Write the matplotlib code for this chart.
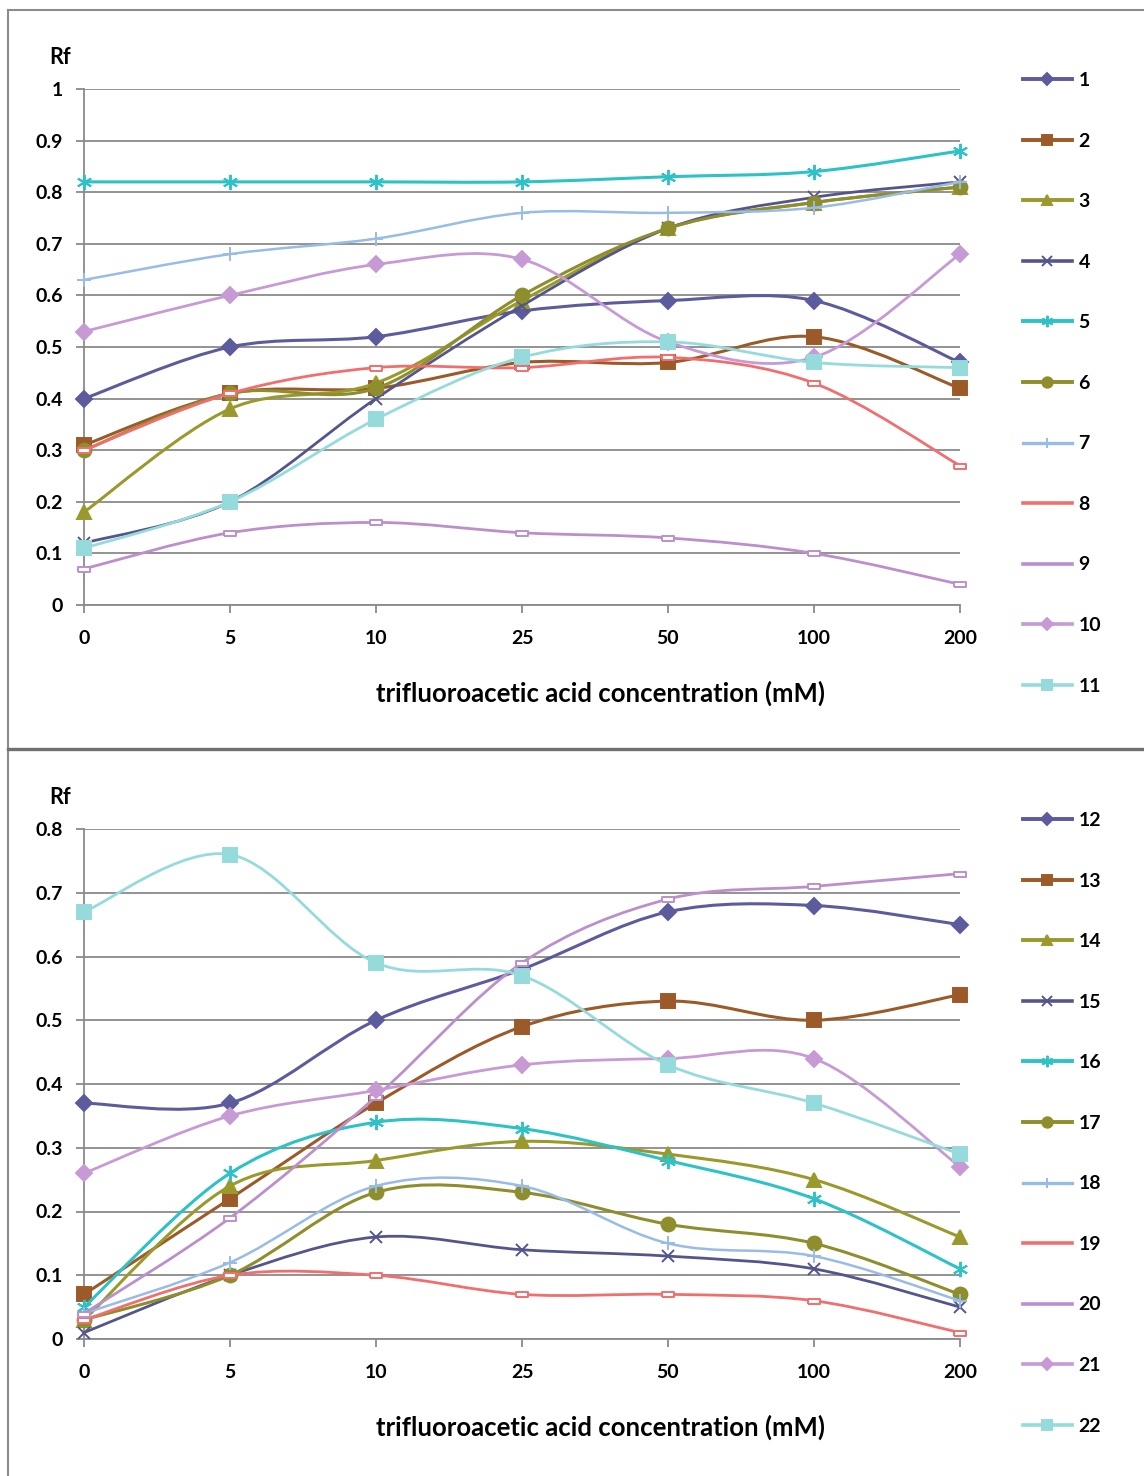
import numpy as np
import matplotlib
matplotlib.use('Agg')
import matplotlib.pyplot as plt
from matplotlib.path import Path
from matplotlib.patches import PathPatch
from matplotlib.lines import Line2D

plt.rcParams['font.family'] = ['Lato', 'DejaVu Sans']
plt.rcParams['font.weight'] = 'bold'

# ---------------- data ----------------
x_labels = ['0', '5', '10', '25', '50', '100', '200']
x_title = 'trifluoroacetic acid concentration (mM)'
y_title = 'Rf'

top_names = ['1', '2', '3', '4', '5', '6', '7', '8', '9', '10', '11']
s1 = [0.40, 0.50, 0.52, 0.57, 0.59, 0.59, 0.47]
s2 = [0.31, 0.41, 0.42, 0.47, 0.47, 0.52, 0.42]
s3 = [0.18, 0.38, 0.43, 0.59, 0.73, 0.78, 0.81]
s4 = [0.12, 0.20, 0.40, 0.58, 0.73, 0.79, 0.82]
s5 = [0.82, 0.82, 0.82, 0.82, 0.83, 0.84, 0.88]
s6 = [0.30, 0.41, 0.42, 0.60, 0.73, 0.78, 0.81]
s7 = [0.63, 0.68, 0.71, 0.76, 0.76, 0.77, 0.82]
s8 = [0.30, 0.41, 0.46, 0.46, 0.48, 0.43, 0.27]
s9 = [0.07, 0.14, 0.16, 0.14, 0.13, 0.10, 0.04]
s10 = [0.53, 0.60, 0.66, 0.67, 0.51, 0.48, 0.68]
s11 = [0.11, 0.20, 0.36, 0.48, 0.51, 0.47, 0.46]

bottom_names = ['12', '13', '14', '15', '16', '17', '18', '19', '20', '21', '22']
s12 = [0.37, 0.37, 0.50, 0.58, 0.67, 0.68, 0.65]
s13 = [0.07, 0.22, 0.37, 0.49, 0.53, 0.50, 0.54]
s14 = [0.03, 0.24, 0.28, 0.31, 0.29, 0.25, 0.16]
s15 = [0.01, 0.10, 0.16, 0.14, 0.13, 0.11, 0.05]
s16 = [0.05, 0.26, 0.34, 0.33, 0.28, 0.22, 0.11]
s17 = [0.03, 0.10, 0.23, 0.23, 0.18, 0.15, 0.07]
s18 = [0.04, 0.12, 0.24, 0.24, 0.15, 0.13, 0.06]
s19 = [0.03, 0.10, 0.10, 0.07, 0.07, 0.06, 0.01]
s20 = [0.04, 0.19, 0.38, 0.59, 0.69, 0.71, 0.73]
s21 = [0.26, 0.35, 0.39, 0.43, 0.44, 0.44, 0.27]
s22 = [0.67, 0.76, 0.59, 0.57, 0.43, 0.37, 0.29]

top_series = [s1, s2, s3, s4, s5, s6, s7, s8, s9, s10, s11]
bottom_series = [s12, s13, s14, s15, s16, s17, s18, s19, s20, s21, s22]

# ---------------- styles ----------------
rect_marker = [(-1, -0.45), (1, -0.45), (1, 0.45), (-1, 0.45), (-1, -0.45)]
styles = [
    dict(color='#5B5B9E', marker='D', ms=8.5, lw=2.2, mfill=True),
    dict(color='#9C5A28', marker='s', ms=10, lw=2.2, mfill=True),
    dict(color='#9A9A2C', marker='^', ms=10, lw=2.2, mfill=True),
    dict(color='#55558E', marker='x', ms=9, lw=2.0, mfill=True),
    dict(color='#2CC2C6', marker=(6, 2, 0), ms=11, lw=2.2, mfill=True),
    dict(color='#8E8E2C', marker='o', ms=10, lw=2.2, mfill=True),
    dict(color='#98BBE8', marker='+', ms=10, lw=1.8, mfill=True),
    dict(color='#F26E6E', marker=rect_marker, ms=8, lw=2.0, mfill=False),
    dict(color='#BC8FCC', marker=rect_marker, ms=8, lw=2.0, mfill=False),
    dict(color='#C79AD6', marker='D', ms=8.5, lw=2.0, mfill=True),
    dict(color='#95DBDB', marker='s', ms=10, lw=2.0, mfill=True),
]

GRID = '#8A8A8A'
W, H = 1144, 1476


def smooth_path(xs, ys):
    pts = np.column_stack([xs, ys]).astype(float)
    n = len(pts)
    verts = [pts[0]]
    codes = [Path.MOVETO]
    for i in range(n - 1):
        p0 = pts[i - 1] if i > 0 else pts[i]
        p1 = pts[i]
        p2 = pts[i + 1]
        p3 = pts[i + 2] if i + 2 < n else pts[i + 1]
        c1 = p1 + (p2 - p0) / 6.0
        c2 = p2 - (p3 - p1) / 6.0
        verts += [c1, c2, p2]
        codes += [Path.CURVE4] * 3
    return Path(verts, codes)


def draw_panel(fig, top_px, bottom_px, series, names, ymax, legend_top_px, rf_px):
    height_px = bottom_px - top_px
    ax = fig.add_axes([84 / W, 1 - bottom_px / H, (960 - 84) / W, height_px / H])
    xs = np.arange(len(x_labels))
    handles = []
    for z, (vals, name, st) in enumerate(zip(series, names, styles)):
        path = smooth_path(xs, vals)
        ax.add_patch(PathPatch(path, facecolor='none', edgecolor=st['color'],
                               lw=st['lw'], capstyle='round', joinstyle='round',
                               zorder=3 + z * 0.01))
        mfc = st['color'] if st['mfill'] else 'white'
        mew = 1.4
        ax.plot(xs, vals, linestyle='none', marker=st['marker'], ms=st['ms'],
                mfc=mfc, mec=st['color'], mew=mew, zorder=3.005 + z * 0.01,
                clip_on=False)
        if st['mfill']:
            h = Line2D([], [], color=st['color'], lw=st['lw'] + 0.6,
                       marker=st['marker'], ms=st['ms'] * 0.75, mfc=mfc,
                       mec=st['color'], mew=mew)
        else:
            h = Line2D([], [], color=st['color'], lw=st['lw'] + 0.6)
        handles.append(h)

    ax.set_xlim(0, len(x_labels) - 1)
    ax.set_ylim(0, ymax)
    yt = np.round(np.arange(0, ymax + 1e-9, 0.1), 1)
    ax.set_yticks(yt)
    ax.set_yticklabels([('%g' % v) for v in yt])
    ax.set_xticks(xs)
    ax.set_xticklabels(x_labels)
    ax.grid(axis='y', color=GRID, lw=1.3)
    ax.set_axisbelow(True)
    for s in ['top', 'right']:
        ax.spines[s].set_visible(False)
    for s in ['left', 'bottom']:
        ax.spines[s].set_color(GRID)
        ax.spines[s].set_linewidth(1.3)
    ax.tick_params(axis='y', length=6, width=1.3, color=GRID, pad=9,
                   labelsize=14)
    ax.tick_params(axis='x', length=6, width=1.3, color=GRID, pad=12,
                   labelsize=14)
    ax.set_xlabel(x_title, fontsize=18.5, fontweight='bold')
    ax.xaxis.set_label_coords((600 - 84) / 876, -88 / height_px)
    ax.xaxis.label.set_va('center')

    fig.text(60 / W, 1 - rf_px / H, y_title, fontsize=15.5, fontweight='bold',
             ha='center', va='center')

    fig.legend(handles, names, loc='upper left',
               bbox_to_anchor=(1023 / W, 1 - legend_top_px / H),
               frameon=False, fontsize=14, handlelength=2.5,
               handletextpad=0.35, labelspacing=2.24, borderaxespad=0,
               borderpad=0)
    return ax


fig = plt.figure(figsize=(W / 100, H / 100), dpi=100)

# top panel: y 0 at 605px, 1 at 89px
draw_panel(fig, 89, 605, top_series, top_names, 1.0, legend_top_px=72, rf_px=58)
# bottom panel: y 0 at 1339px, 0.8 at 829px
draw_panel(fig, 829, 1339, bottom_series, bottom_names, 0.8, legend_top_px=812, rf_px=798)

# panel frames
frame_c = '#8C8C8C'
fig.add_artist(Line2D([8 / W, 8 / W], [0, 1 - 10 / H], transform=fig.transFigure,
                      color=frame_c, lw=1.5))
fig.add_artist(Line2D([8 / W, 1], [1 - 10 / H, 1 - 10 / H], transform=fig.transFigure,
                      color=frame_c, lw=1.5))
fig.add_artist(Line2D([8 / W, 1], [1 - 749 / H, 1 - 749 / H], transform=fig.transFigure,
                      color='#707070', lw=2.4))

fig.savefig('out.png', dpi=100)
